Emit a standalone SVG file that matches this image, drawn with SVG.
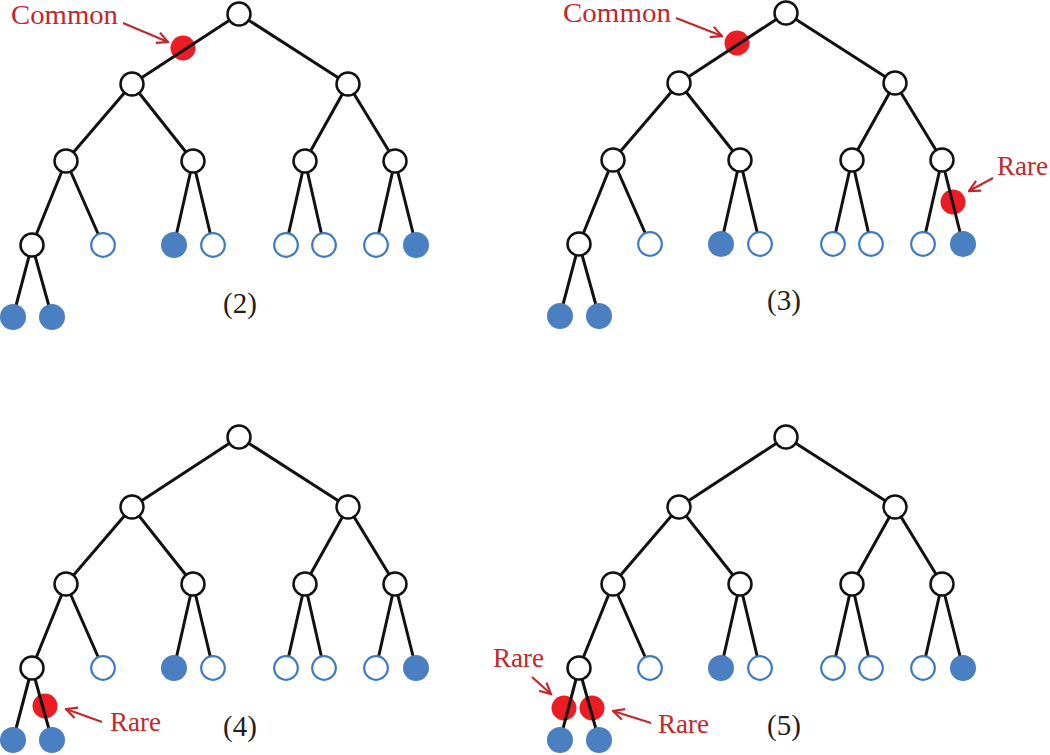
<svg xmlns="http://www.w3.org/2000/svg" width="1050" height="755" viewBox="0 0 1050 755">
<defs>
<style>
.e{stroke:#111;stroke-width:3;stroke-linecap:round;fill:none}
.n{fill:#fff;stroke:#111;stroke-width:2.5}
.h{fill:#fff;stroke:#3d7bc1;stroke-width:2.2}
.f{fill:#4a7fc1}
.r{fill:#ec1c24}
.lbl{font-family:"Liberation Serif","DejaVu Serif",serif;font-size:27px;fill:#c1272d}
.num{font-family:"Liberation Serif","DejaVu Serif",serif;font-size:29px;fill:#231f20;text-anchor:middle}
.a{stroke:#c1272d;stroke-width:2.2;fill:none}
</style>
<marker id="ah" markerUnits="userSpaceOnUse" viewBox="0 0 14 14" refX="12.5" refY="7" markerWidth="14" markerHeight="14" orient="auto">
<path d="M1.5,1.5 L12.5,7 L1.5,12.5" fill="none" stroke="#c1272d" stroke-width="2.2"/>
</marker>
</defs>
<rect width="1050" height="755" fill="#fff"/>

<!-- markers (red) under connectors -->
<g id="red-marks">
<circle id="t2-common" class="r" cx="183" cy="48" r="12.5"/>
<circle id="t3-common" class="r" cx="737" cy="43" r="12.5"/>
<circle id="t3-rare" class="r" cx="953" cy="202" r="12.5"/>
<circle id="t4-rare" class="r" cx="45" cy="706" r="12.5"/>
<circle id="t5-rare1" class="r" cx="564" cy="708" r="12.5"/>
<circle id="t5-rare2" class="r" cx="592" cy="708" r="12.5"/>
</g>

<g id="connectors">
<g transform="translate(0,0)">
<path class="e" d="M239,14L132,84M239,14L348,84M132,84L66,161M132,84L193,161M348,84L305,161M348,84L395,161M66,161L32,245M66,161L103,245M193,161L174,245M193,161L213,245M305,161L286,245M305,161L324,245M395,161L376,245M395,161L416,245M32,245L13,317M32,245L52,317"/>
</g>
<g transform="translate(547,-1)">
<path class="e" d="M239,14L132,84M239,14L348,84M132,84L66,161M132,84L193,161M348,84L305,161M348,84L395,161M66,161L32,245M66,161L103,245M193,161L174,245M193,161L213,245M305,161L286,245M305,161L324,245M395,161L376,245M395,161L416,245M32,245L13,317M32,245L52,317"/>
</g>
<g transform="translate(0,423)">
<path class="e" d="M239,14L132,84M239,14L348,84M132,84L66,161M132,84L193,161M348,84L305,161M348,84L395,161M66,161L32,245M66,161L103,245M193,161L174,245M193,161L213,245M305,161L286,245M305,161L324,245M395,161L376,245M395,161L416,245M32,245L13,317M32,245L52,317"/>
</g>
<g transform="translate(547,423)">
<path class="e" d="M239,14L132,84M239,14L348,84M132,84L66,161M132,84L193,161M348,84L305,161M348,84L395,161M66,161L32,245M66,161L103,245M193,161L174,245M193,161L213,245M305,161L286,245M305,161L324,245M395,161L376,245M395,161L416,245M32,245L13,317M32,245L52,317"/>
</g>
<path class="a" marker-end="url(#ah)" d="M123,23L168,42"/>
<path class="a" marker-end="url(#ah)" d="M676,18L722,36"/>
<path class="a" marker-end="url(#ah)" d="M993,178L969,191"/>
<path class="a" marker-end="url(#ah)" d="M102,722L66,709"/>
<path class="a" marker-end="url(#ah)" d="M532,677L551,694"/>
<path class="a" marker-end="url(#ah)" d="M651,723L613,711"/>
</g>

<g id="tree2" transform="translate(0,0)">
<g id="t2-root"><circle class="n" cx="239" cy="14" r="11.5"/></g>
<g id="t2-a"><circle class="n" cx="132" cy="84" r="11.5"/></g>
<g id="t2-b"><circle class="n" cx="348" cy="84" r="11.5"/></g>
<g id="t2-aa"><circle class="n" cx="66" cy="161" r="11.5"/></g>
<g id="t2-ab"><circle class="n" cx="193" cy="161" r="11.5"/></g>
<g id="t2-ba"><circle class="n" cx="305" cy="161" r="11.5"/></g>
<g id="t2-bb"><circle class="n" cx="395" cy="161" r="11.5"/></g>
<g id="t2-aaa"><circle class="n" cx="32" cy="245" r="11.5"/></g>
<g id="t2-aab"><circle class="h" cx="103" cy="245" r="11.8"/></g>
<g id="t2-aba"><circle class="f" cx="174" cy="245" r="13"/></g>
<g id="t2-abb"><circle class="h" cx="213" cy="245" r="11.8"/></g>
<g id="t2-baa"><circle class="h" cx="286" cy="245" r="11.8"/></g>
<g id="t2-bab"><circle class="h" cx="324" cy="245" r="11.8"/></g>
<g id="t2-bba"><circle class="h" cx="376" cy="245" r="11.8"/></g>
<g id="t2-bbb"><circle class="f" cx="416" cy="245" r="13"/></g>
<g id="t2-aaaa"><circle class="f" cx="13" cy="317" r="13"/></g>
<g id="t2-aaab"><circle class="f" cx="52" cy="317" r="13"/></g>
</g>

<g id="tree3" transform="translate(547,-1)">
<g id="t3-root"><circle class="n" cx="239" cy="14" r="11.5"/></g>
<g id="t3-a"><circle class="n" cx="132" cy="84" r="11.5"/></g>
<g id="t3-b"><circle class="n" cx="348" cy="84" r="11.5"/></g>
<g id="t3-aa"><circle class="n" cx="66" cy="161" r="11.5"/></g>
<g id="t3-ab"><circle class="n" cx="193" cy="161" r="11.5"/></g>
<g id="t3-ba"><circle class="n" cx="305" cy="161" r="11.5"/></g>
<g id="t3-bb"><circle class="n" cx="395" cy="161" r="11.5"/></g>
<g id="t3-aaa"><circle class="n" cx="32" cy="245" r="11.5"/></g>
<g id="t3-aab"><circle class="h" cx="103" cy="245" r="11.8"/></g>
<g id="t3-aba"><circle class="f" cx="174" cy="245" r="13"/></g>
<g id="t3-abb"><circle class="h" cx="213" cy="245" r="11.8"/></g>
<g id="t3-baa"><circle class="h" cx="286" cy="245" r="11.8"/></g>
<g id="t3-bab"><circle class="h" cx="324" cy="245" r="11.8"/></g>
<g id="t3-bba"><circle class="h" cx="376" cy="245" r="11.8"/></g>
<g id="t3-bbb"><circle class="f" cx="416" cy="245" r="13"/></g>
<g id="t3-aaaa"><circle class="f" cx="13" cy="317" r="13"/></g>
<g id="t3-aaab"><circle class="f" cx="52" cy="317" r="13"/></g>
</g>

<g id="tree4" transform="translate(0,423)">
<g id="t4-root"><circle class="n" cx="239" cy="14" r="11.5"/></g>
<g id="t4-a"><circle class="n" cx="132" cy="84" r="11.5"/></g>
<g id="t4-b"><circle class="n" cx="348" cy="84" r="11.5"/></g>
<g id="t4-aa"><circle class="n" cx="66" cy="161" r="11.5"/></g>
<g id="t4-ab"><circle class="n" cx="193" cy="161" r="11.5"/></g>
<g id="t4-ba"><circle class="n" cx="305" cy="161" r="11.5"/></g>
<g id="t4-bb"><circle class="n" cx="395" cy="161" r="11.5"/></g>
<g id="t4-aaa"><circle class="n" cx="32" cy="245" r="11.5"/></g>
<g id="t4-aab"><circle class="h" cx="103" cy="245" r="11.8"/></g>
<g id="t4-aba"><circle class="f" cx="174" cy="245" r="13"/></g>
<g id="t4-abb"><circle class="h" cx="213" cy="245" r="11.8"/></g>
<g id="t4-baa"><circle class="h" cx="286" cy="245" r="11.8"/></g>
<g id="t4-bab"><circle class="h" cx="324" cy="245" r="11.8"/></g>
<g id="t4-bba"><circle class="h" cx="376" cy="245" r="11.8"/></g>
<g id="t4-bbb"><circle class="f" cx="416" cy="245" r="13"/></g>
<g id="t4-aaaa"><circle class="f" cx="13" cy="317" r="13"/></g>
<g id="t4-aaab"><circle class="f" cx="52" cy="317" r="13"/></g>
</g>

<g id="tree5" transform="translate(547,423)">
<g id="t5-root"><circle class="n" cx="239" cy="14" r="11.5"/></g>
<g id="t5-a"><circle class="n" cx="132" cy="84" r="11.5"/></g>
<g id="t5-b"><circle class="n" cx="348" cy="84" r="11.5"/></g>
<g id="t5-aa"><circle class="n" cx="66" cy="161" r="11.5"/></g>
<g id="t5-ab"><circle class="n" cx="193" cy="161" r="11.5"/></g>
<g id="t5-ba"><circle class="n" cx="305" cy="161" r="11.5"/></g>
<g id="t5-bb"><circle class="n" cx="395" cy="161" r="11.5"/></g>
<g id="t5-aaa"><circle class="n" cx="32" cy="245" r="11.5"/></g>
<g id="t5-aab"><circle class="h" cx="103" cy="245" r="11.8"/></g>
<g id="t5-aba"><circle class="f" cx="174" cy="245" r="13"/></g>
<g id="t5-abb"><circle class="h" cx="213" cy="245" r="11.8"/></g>
<g id="t5-baa"><circle class="h" cx="286" cy="245" r="11.8"/></g>
<g id="t5-bab"><circle class="h" cx="324" cy="245" r="11.8"/></g>
<g id="t5-bba"><circle class="h" cx="376" cy="245" r="11.8"/></g>
<g id="t5-bbb"><circle class="f" cx="416" cy="245" r="13"/></g>
<g id="t5-aaaa"><circle class="f" cx="13" cy="317" r="13"/></g>
<g id="t5-aaab"><circle class="f" cx="52" cy="317" r="13"/></g>
</g>

<g id="labels">
<text class="lbl" x="11" y="24" textLength="107" lengthAdjust="spacingAndGlyphs">Common</text>
<text class="lbl" x="563" y="22" textLength="108" lengthAdjust="spacingAndGlyphs">Common</text>
<text class="lbl" x="997" y="175">Rare</text>
<text class="lbl" x="110" y="731">Rare</text>
<text class="lbl" x="493" y="667">Rare</text>
<text class="lbl" x="658" y="733">Rare</text>
<text class="num" x="240" y="313">(2)</text>
<text class="num" x="784" y="310">(3)</text>
<text class="num" x="240" y="736">(4)</text>
<text class="num" x="784" y="735">(5)</text>
</g>
</svg>
